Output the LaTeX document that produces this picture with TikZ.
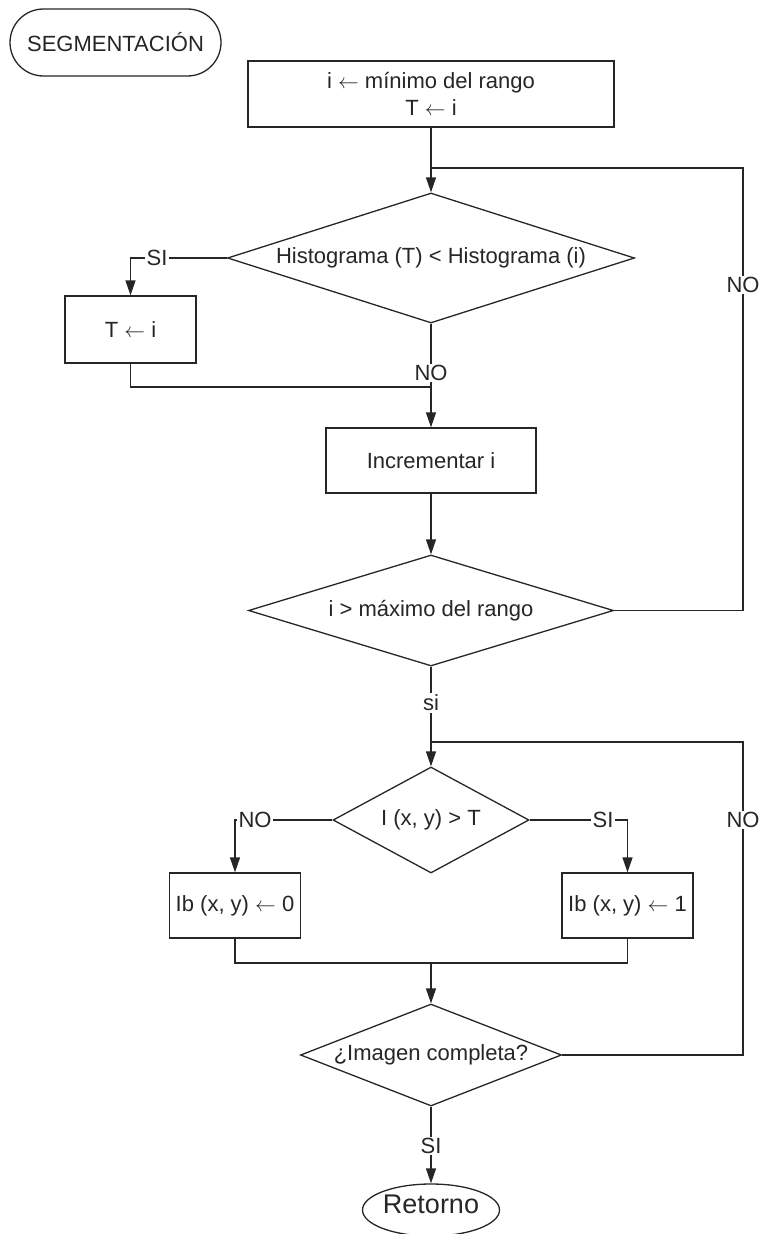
\documentclass[tikz,border=0pt]{standalone}
\usepackage{fontspec}
\setmainfont{Liberation Sans}
\usetikzlibrary{shapes.geometric,arrows.meta}
\definecolor{ink}{HTML}{262626}
\newcommand{\getsarrow}{\ensuremath{\leftarrow}}
\begin{document}
\begin{tikzpicture}[x=1pt,y=-1pt,
  every node/.style={font=\fontsize{22}{27}\selectfont, text=ink},
  flow/.style={draw=ink, line width=1.3pt, fill=white},
  procbox/.style={flow, rectangle, inner sep=0pt, align=center},
  terminal/.style={flow, rectangle, inner sep=0pt},
  decision/.style={flow, diamond, inner sep=0pt, aspect=1},
  conn/.style={draw=ink, line width=1.3pt},
  arr/.style={conn, -{Triangle[length=15pt,width=10pt]}},
  tag/.style={fill=white, inner sep=1.5pt}]
\useasboundingbox (0,0) rectangle (762,1234);

% blocks
\node[terminal, minimum width=211pt, minimum height=67pt, rounded corners=33.5pt] (seg) at (115.5,42.5) {SEGMENTACIÓN};
\node[procbox, minimum width=366pt, minimum height=66pt] (init) at (431,94) {i \getsarrow{} mínimo del rango\\T \getsarrow{} i};
\node[decision, minimum width=407pt, minimum height=130pt] (d1) at (431,258) {\makebox[0pt]{Histograma (T) < Histograma (i)}};
\node[procbox, minimum width=131pt, minimum height=67pt] (tb) at (130.5,329.5) {T \getsarrow{} i};
\node[procbox, minimum width=210pt, minimum height=65pt] (inc) at (431,460.5) {Incrementar i};
\node[decision, minimum width=365pt, minimum height=111pt] (d2) at (431,610.5) {\makebox[0pt]{i > máximo del rango}};
\node[decision, minimum width=196pt, minimum height=106pt] (d3) at (431,820) {\makebox[0pt]{I (x, y) > T}};
\node[procbox, minimum width=131pt, minimum height=65pt] (b0) at (235,905.5) {Ib (x, y) \getsarrow{} 0};
\node[procbox, minimum width=131pt, minimum height=65pt] (b1) at (627.5,905.5) {Ib (x, y) \getsarrow{} 1};
\node[decision, minimum width=261pt, minimum height=102pt] (d4) at (431,1055) {\makebox[0pt]{¿Imagen completa?}};
\node[flow, ellipse, inner sep=0pt, minimum width=137pt, minimum height=52pt,
      text height=1.5ex, text depth=0.25ex, font=\fontsize{27}{31}\selectfont] (ret) at (431,1210) {Retorno};

% junction points
\coordinate (j1) at (431,168);
\coordinate (r1) at (743,168);
\coordinate (m1) at (431,387);
\coordinate (j2) at (431,742);
\coordinate (r2) at (743,742);
\coordinate (m2) at (431,963);

% connectors
\draw[arr] (init.south) -- (d1.north);
\draw[arr] (d1.west) -| (tb.north);
\draw[arr] (d1.south) -- (inc.north);
\draw[conn] (tb.south) |- (m1);
\draw[arr] (inc.south) -- (d2.north);
\draw[conn] (d2.east) -| (r1) -- (j1);
\draw[arr] (d2.south) -- (d3.north);
\draw[arr] (d3.west) -| (b0.north);
\draw[arr] (d3.east) -| (b1.north);
\draw[conn] (b0.south) |- (m2) -| (b1.south);
\draw[arr] (m2) -- (d4.north);
\draw[conn] (d4.east) -| (r2) -- (j2);
\draw[arr] (d4.south) -- (ret.north);

% branch labels
\node[tag] (lsi1) at (157,258) {SI};
\node[tag] (lno1) at (431,373) {NO};
\node[tag] (lno2) at (743,285) {NO};
\node[tag] (lsi2) at (431,703) {si};
\node[tag] (lno3) at (255,820) {NO};
\node[tag] (lsi3) at (603,820) {SI};
\node[tag] (lno4) at (743,820) {NO};
\node[tag] (lsi4) at (431,1146) {SI};
\end{tikzpicture}
\end{document}
